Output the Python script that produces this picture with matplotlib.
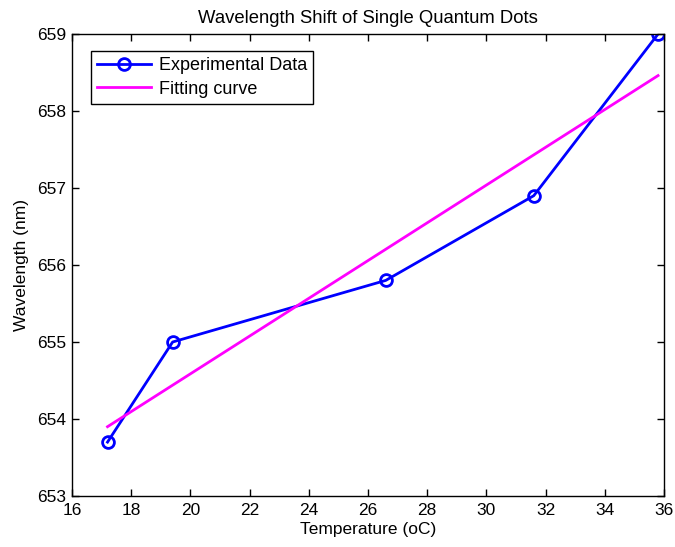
import matplotlib
matplotlib.use('Agg')
import matplotlib.pyplot as plt

plt.rcParams['font.family'] = ['Liberation Sans', 'DejaVu Sans']

# data
temperature = [17.2, 19.4, 26.6, 31.6, 35.8]
wavelength = [653.7, 655.0, 655.8, 656.9, 659.0]
fit_temperature = [17.2, 35.8]
fit_wavelength = [653.9, 658.46]
x_ticks = [16, 18, 20, 22, 24, 26, 28, 30, 32, 34, 36]
y_ticks = [653, 654, 655, 656, 657, 658, 659]


def main():
    fig = plt.figure(figsize=(6.75, 5.47), dpi=100)
    ax = fig.add_axes([72/675, 1 - 496/547, (664-72)/675, (496-34)/547])

    ax.plot(temperature, wavelength, color='#0000ff', lw=2, marker='o',
            ms=8.5, mfc='none', mec='#0000ff', mew=2, label='Experimental Data')
    ax.plot(fit_temperature, fit_wavelength, color='#ff00ff', lw=2,
            label='Fitting curve')

    ax.set_xlim(16, 36)
    ax.set_ylim(653, 659)
    ax.set_xticks(x_ticks)
    ax.set_yticks(y_ticks)
    ax.tick_params(direction='in', top=True, right=True, labelsize=12.5,
                   length=5, width=1)
    ax.tick_params(axis='x', pad=5)
    ax.tick_params(axis='y', pad=4)
    for s in ax.spines.values():
        s.set_linewidth(1)

    ax.set_xlabel('Temperature (oC)', fontsize=12.5, labelpad=3)
    ax.set_ylabel('Wavelength (nm)', fontsize=12.5, labelpad=6)
    ax.set_title('Wavelength Shift of Single Quantum Dots', fontsize=13.3, pad=8)

    leg = ax.legend(loc='upper left', bbox_to_anchor=(19/592, 445/462),
                    borderaxespad=0, fontsize=13, fancybox=False,
                    edgecolor='black', framealpha=1, handlelength=3,
                    handletextpad=0.4, borderpad=0.35, labelspacing=0.35)
    leg.get_frame().set_linewidth(1)

    fig.savefig('out.png', dpi=100)


if __name__ == "__main__":
    main()
